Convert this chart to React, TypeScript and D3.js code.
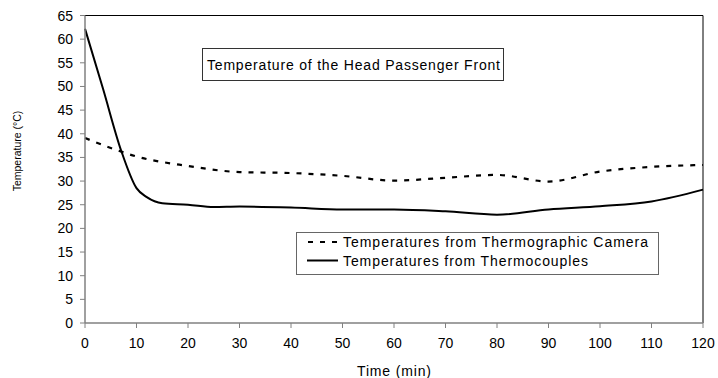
import React from 'react';
import * as d3 from 'd3';

const camTime = [0, 5, 10, 20, 30, 40, 50, 60, 70, 80, 90, 100, 110, 120];
const camTemp = [39.1, 37, 35.2, 33.2, 31.9, 31.7, 31.1, 30.1, 30.7, 31.3, 29.9, 32, 33, 33.4];

const tcTime = [0, 3.5, 7, 10, 12, 15, 20, 25, 30, 40, 50, 60, 70, 80, 90, 100, 110, 120];
const tcTemp = [62.2, 49.5, 36.5, 28.5, 26.6, 25.3, 25, 24.5, 24.6, 24.4, 24, 24, 23.6, 22.9, 24, 24.7, 25.7, 28.2];

const xTicks = [0, 10, 20, 30, 40, 50, 60, 70, 80, 90, 100, 110, 120];
const yTicks = [0, 5, 10, 15, 20, 25, 30, 35, 40, 45, 50, 55, 60, 65];

const chartTitle = 'Temperature of the Head Passenger Front';
const legendLabels = ['Temperatures from Thermographic Camera', 'Temperatures from Thermocouples'];

const W = 718;
const H = 378;
const margin = { top: 15.5, right: 15, bottom: 55, left: 85 };
const font = 'Arial, "Liberation Sans", sans-serif';

const App = () => {
  const x = d3.scaleLinear().domain([0, 120]).range([margin.left, W - margin.right]);
  const y = d3.scaleLinear().domain([0, 65]).range([H - margin.bottom, margin.top]);

  const line = d3
    .line<[number, number]>()
    .x((d) => x(d[0]))
    .y((d) => y(d[1]))
    .curve(d3.curveMonotoneX);

  const camPath = line(camTime.map((t, i) => [t, camTemp[i]]));
  const tcPath = line(tcTime.map((t, i) => [t, tcTemp[i]]));

  const x0 = x(0);
  const x1 = x(120);
  const y0 = y(0);
  const y1 = y(65);

  return (
    <svg width={W} height={H} style={{ position: 'absolute', left: 0, top: 0 }} fontFamily={font}>
      <rect x={0} y={0} width={W} height={H} fill="#fff" />
      {/* frame: top/right black, axes gray */}
      <line x1={x0} y1={y1} x2={x1} y2={y1} stroke="#000" strokeWidth={1} />
      <line x1={x1} y1={y1} x2={x1} y2={y0} stroke="#000" strokeWidth={1} />

      <path d={camPath ?? ''} fill="none" stroke="#000" strokeWidth={2.2} strokeDasharray="5,7" />
      <path d={tcPath ?? ''} fill="none" stroke="#000" strokeWidth={2} />

      <line x1={x0} y1={y1} x2={x0} y2={y0} stroke="#808080" strokeWidth={1.5} />
      <line x1={x0} y1={y0} x2={x1} y2={y0} stroke="#808080" strokeWidth={1.5} />

      {yTicks.map((t) => (
        <g key={'y' + t}>
          <line x1={x0 - 5} x2={x0} y1={y(t)} y2={y(t)} stroke="#808080" />
          <text x={73} y={y(t) + 5} textAnchor="end" fontSize={14} fill="#000">
            {t}
          </text>
        </g>
      ))}
      {xTicks.map((t) => (
        <g key={'x' + t}>
          <line x1={x(t)} x2={x(t)} y1={y0} y2={y0 + 5} stroke="#808080" />
          <text x={x(t)} y={348} textAnchor="middle" fontSize={14} fill="#000">
            {t}
          </text>
        </g>
      ))}

      <text x={(x0 + x1) / 2} y={376} textAnchor="middle" fontSize={14} fill="#000" textLength={74}>
        Time (min)
      </text>
      <text
        transform={`translate(21, 151) rotate(-90)`}
        textAnchor="middle"
        fontSize={10.5}
        fill="#000"
      >
        Temperature (°C)
      </text>

      {/* title box */}
      <rect x={202.5} y={48.5} width={301} height={32} fill="#fff" stroke="#333" strokeWidth={1} />
      <text x={207} y={69.5} fontSize={14} fill="#000" textLength={293}>
        {chartTitle}
      </text>

      {/* legend */}
      <rect x={296.5} y={232.5} width={362} height={42} fill="#fff" stroke="#666" strokeWidth={1} />
      <line x1={308} x2={340} y1={242} y2={242} stroke="#000" strokeWidth={2.2} strokeDasharray="5,7" />
      <text x={343} y={247} fontSize={14} fill="#000" textLength={305}>
        {legendLabels[0]}
      </text>
      <line x1={307} x2={338} y1={260.5} y2={260.5} stroke="#000" strokeWidth={2} />
      <text x={343} y={265.5} fontSize={14} fill="#000" textLength={245}>
        {legendLabels[1]}
      </text>
    </svg>
  );
};

export default App;
